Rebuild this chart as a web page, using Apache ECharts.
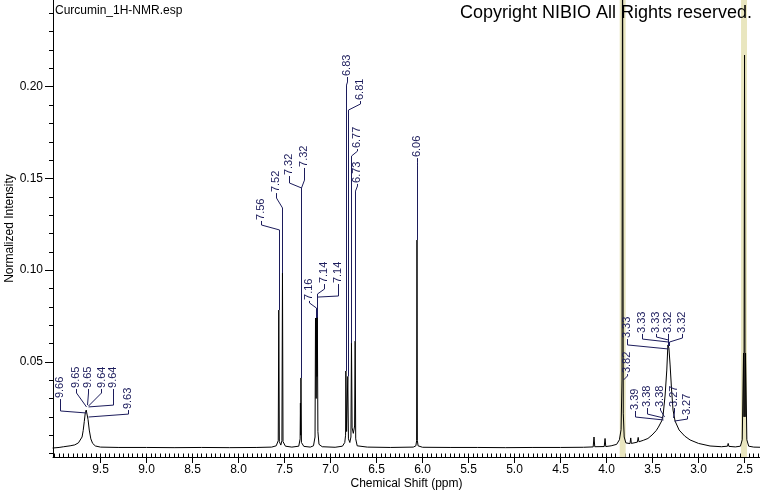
<!DOCTYPE html>
<html>
<head>
<meta charset="utf-8">
<script src="https://cdn.jsdelivr.net/npm/echarts@6/dist/echarts.min.js"></script>
<style>
html,body{margin:0;padding:0;background:#fff;}
#chart{width:760px;height:492px;}
</style>
</head>
<body>
<div id="chart"></div>
<script>
// ---- spectrum (chemical shift ppm, normalized intensity) ----
const specPpm = [10.02,9.95,9.90,9.83,9.78,9.74,9.72,9.70,9.688,9.676,9.665,9.655,9.645,9.635,9.622,9.605,9.585,9.555,9.50,9.30,
  9.00,8.70,8.40,8.10,7.80,7.64,7.59,7.568,7.562,7.556,7.54,7.528,7.522,7.516,7.49,7.42,7.345,7.330,7.327,7.324,7.321,7.316,7.29,7.22,
  7.185,7.168,7.163,7.156,7.150,7.147,7.143,7.137,7.125,7.09,6.95,6.87,6.845,6.836,6.833,6.825,6.815,6.812,6.805,6.79,6.778,6.772,6.765,
  6.752,6.738,6.732,6.726,6.71,6.60,6.35,6.10,6.072,6.064,6.060,6.056,6.048,6.00,5.70,5.40,5.10,4.80,4.50,4.25,4.145,4.136,4.128,
  4.025,4.016,4.008,3.95,3.89,3.86,3.842,3.832,3.826,3.818,3.808,3.79,3.745,3.737,3.730,3.665,3.656,3.648,3.60,3.55,3.505,3.46,3.436,
  3.40,3.385,3.363,3.345,3.333,3.322,3.309,3.293,3.277,3.255,3.211,3.15,3.092,3.00,2.875,2.75,2.685,2.678,2.670,2.60,2.545,2.525,2.511,
  2.506,2.500,2.494,2.489,2.475,2.455,2.40,2.33];
const specInt = [0.0030,0.0033,0.0037,0.0042,0.0047,0.0058,0.0068,0.0090,0.0125,0.0175,0.0222,0.0237,0.0228,0.0185,0.0128,0.0080,0.0055,0.0041,0.0035,0.0033,
  0.0033,0.0032,0.0033,0.0032,0.0033,0.0035,0.0042,0.0070,0.0782,0.0065,0.0046,0.0070,0.0984,0.0065,0.0040,0.0035,0.0040,0.0080,0.0275,0.0100,0.0412,0.0060,0.0039,0.0035,
  0.0042,0.0090,0.0739,0.0300,0.0741,0.0420,0.0750,0.0120,0.0050,0.0037,0.0034,0.0040,0.0060,0.0100,0.0450,0.0120,0.0110,0.0420,0.0080,0.0060,0.0090,0.0602,0.0140,
  0.0110,0.0150,0.0613,0.0080,0.0042,0.0035,0.0033,0.0035,0.0042,0.0070,0.1164,0.0070,0.0042,0.0034,0.0033,0.0033,0.0032,0.0033,0.0033,0.0034,0.0036,0.0090,0.0037,
  0.0038,0.0082,0.0038,0.0042,0.0050,0.0075,0.0130,0.0401,0.3000,0.0220,0.0090,0.0058,0.0054,0.0085,0.0055,0.0062,0.0088,0.0064,0.0072,0.0082,0.0101,0.0125,0.0144,
  0.0178,0.0210,0.0319,0.0455,0.0592,0.0575,0.0483,0.0346,0.0237,0.0177,0.0128,0.0095,0.0074,0.0055,0.0041,0.0037,0.0040,0.0055,0.0039,0.0036,0.0040,0.0075,0.0548,
  0.0200,0.2173,0.0200,0.0548,0.0075,0.0040,0.0035,0.0034];

// ---- peak labels ----
const peakLabels = ['9.66','9.65','9.65','9.64','9.64','9.63','7.56','7.52','7.32','7.32','7.16','7.14','7.14',
  '6.83','6.81','6.77','6.73','6.06','3.82','3.33','3.33','3.33','3.32','3.32','3.39','3.38','3.38','3.27','3.27'];
const peakLabelPpm = [9.652,9.652,9.647,9.641,9.641,9.636,7.562,7.522,7.321,7.321,7.163,7.150,7.143,
  6.833,6.812,6.772,6.732,6.060,3.826,3.335,3.333,3.331,3.328,3.322,3.385,3.383,3.380,3.275,3.272];
const peakLabelTop = [0.0221,0.0254,0.0264,0.0259,0.0254,0.0199,0.0782,0.0984,0.0412,0.0412,0.0739,0.0741,0.0750,
  0.0450,0.0420,0.0602,0.0613,0.1164,0.0401,0.0570,0.0586,0.0586,0.0586,0.0586,0.0183,0.0194,0.0199,0.0194,0.0177];
// label anchor layout (data units): text centre ppm, text foot, leader bend at text, leader bend at peak
const labelTextPpm = [9.935,9.764,9.634,9.489,9.359,9.199,7.755,7.589,7.455,7.292,7.238,7.075,6.918,
  6.821,6.676,6.709,6.709,6.060,3.776,3.780,3.617,3.461,3.328,3.182,3.689,3.562,3.418,3.262,3.128];
const labelTextBase = [0.0297,0.0352,0.0352,0.0352,0.0352,0.0237,0.1268,0.1420,0.1513,0.1557,0.0832,0.0924,0.0924,
  0.2053,0.1922,0.1660,0.1470,0.1611,0.0433,0.0624,0.0652,0.0652,0.0652,0.0652,0.0232,0.0248,0.0248,0.0248,0.0204];
const labelBend1 = [0.0232,0.0330,0.0330,0.0330,0.0264,0.0215,0.1246,0.1393,0.1475,0.1491,0.0821,0.0897,0.0859,
  0.2026,0.1906,0.1649,0.1459,0.1589,0.0423,0.0592,0.0624,0.0635,0.0630,0.0630,0.0199,0.0215,0.0237,0.0226,0.0188];
const labelBend2 = [0.0221,0.0254,0.0264,0.0259,0.0254,0.0199,0.1219,0.1339,0.1448,0.1448,0.0793,0.0870,0.0853,
  0.2009,0.1873,0.1622,0.1431,0.1573,0.0401,0.0570,0.0608,0.0619,0.0608,0.0608,0.0183,0.0194,0.0199,0.0194,0.0177];

// ---- axes ----
const xTickLabels = [2.5,3.0,3.5,4.0,4.5,5.0,5.5,6.0,6.5,7.0,7.5,8.0,8.5,9.0,9.5];
const yTickLabels = [0.05,0.10,0.15,0.20];
const xMin = 2.332, xMax = 10.016, yMin = -0.0019, yMax = 0.2473;
// highlighted (yellow) regions, ppm
const bandRanges = [[3.857,3.792],[2.538,2.473]];

const xMinor = []; for (let k = 47; k <= 200; k++) xMinor.push(+(k*0.05).toFixed(2));
const yMinor = []; for (let k = 0; k <= 24; k++) yMinor.push(+(k*0.01).toFixed(2));

const labelColor = '#1c1c5c';
const font = '"Liberation Sans", Arial, sans-serif';

const chart = echarts.init(document.getElementById('chart'), null, {renderer:'canvas'});
const spectrum = specPpm.map((p,i)=>[p, specInt[i]]);

chart.setOption({
  animation:false,
  backgroundColor:'#fff',
  title:[
    {text:'Curcumin_1H-NMR.esp', left:55, top:5, padding:0, textStyle:{fontSize:12, fontWeight:'normal', color:'#000', fontFamily:font}},
    {text:'Copyright NIBIO All Rights reserved.', right:8, top:4, padding:0, textStyle:{fontSize:18, fontWeight:'normal', color:'#000', fontFamily:font}}
  ],
  grid:{left:53, right:0, top:0, bottom:35, containLabel:false, outerBoundsMode:'none'},
  xAxis:[
    {type:'value', inverse:true, min:xMin, max:xMax, position:'bottom', offset:0,
     axisLine:{show:true, onZero:false, lineStyle:{color:'#000', width:1}},
     axisTick:{show:true, customValues:xTickLabels, length:6, lineStyle:{color:'#000'}},
     axisLabel:{show:true, customValues:xTickLabels, formatter:v=>v.toFixed(1), color:'#000', fontSize:12, fontFamily:font, margin:7},
     splitLine:{show:false},
     name:'Chemical Shift (ppm)', nameLocation:'middle', nameGap:21, nameMoveOverlap:false,
     nameTextStyle:{color:'#000', fontSize:12, fontFamily:font}},
    {type:'value', inverse:true, min:xMin, max:xMax, position:'bottom', offset:0,
     axisLine:{show:false}, axisTick:{show:true, customValues:xMinor, length:4, lineStyle:{color:'#000'}},
     axisLabel:{show:false}, splitLine:{show:false}}
  ],
  yAxis:[
    {type:'value', min:yMin, max:yMax, position:'left', offset:0,
     axisLine:{show:true, onZero:false, lineStyle:{color:'#000', width:1}},
     axisTick:{show:true, customValues:yTickLabels, length:8, lineStyle:{color:'#000'}},
     axisLabel:{show:true, customValues:yTickLabels, formatter:v=>v.toFixed(2), color:'#000', fontSize:12, fontFamily:font, margin:10},
     splitLine:{show:false},
     name:'Normalized Intensity', nameLocation:'middle', nameGap:37, nameRotate:90, nameMoveOverlap:false,
     nameTextStyle:{color:'#000', fontSize:12, fontFamily:font}},
    {type:'value', min:yMin, max:yMax, position:'left', offset:0,
     axisLine:{show:false}, axisTick:{show:true, customValues:yMinor, length:4, lineStyle:{color:'#000'}},
     axisLabel:{show:false}, splitLine:{show:false}}
  ],
  series:[
    {type:'line', xAxisIndex:0, yAxisIndex:0, data:spectrum, showSymbol:false, symbol:'none',
     lineStyle:{color:'#000', width:1}, clip:true, z:3, silent:true,
     markArea:{silent:true, itemStyle:{color:'#e9e6bf'},
       data: bandRanges.map(r=>[{xAxis:r[0]},{xAxis:r[1]}])}},
    {type:'custom', xAxisIndex:0, yAxisIndex:0, coordinateSystem:'cartesian2d', clip:false, z:4, silent:true,
     data: peakLabels.map((t,i)=>[labelTextPpm[i], labelTextBase[i], labelBend1[i], peakLabelPpm[i], labelBend2[i], peakLabelTop[i], i]),
     encode:{x:[0,3], y:[1,2,4,5]},
     renderItem:function(params, api){
       const i = api.value(6);
       const a = api.coord([api.value(0), api.value(1)]);
       const b = api.coord([api.value(0), api.value(2)]);
       const c = api.coord([api.value(3), api.value(4)]);
       const d = api.coord([api.value(3), api.value(5)]);
       const s = v => Math.round(v) + 0.5;
       return {type:'group', children:[
         {type:'polyline', shape:{points:[[s(a[0]),a[1]],[s(b[0]),b[1]],[s(c[0]),c[1]],[s(d[0]),d[1]]]},
          style:{stroke:labelColor, lineWidth:1, fill:null}},
         {type:'text', x:a[0], y:a[1]-1, rotation:Math.PI/2,
          style:{text:peakLabels[i], font:'11px ' + font, fill:labelColor, align:'left', verticalAlign:'middle'}}
       ]};
     }}
  ]
});
</script>
</body>
</html>
